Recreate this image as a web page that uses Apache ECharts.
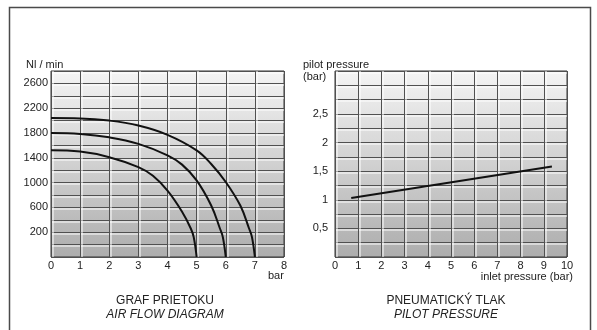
<!DOCTYPE html>
<html>
<head>
<meta charset="utf-8">
<script src="https://cdn.jsdelivr.net/npm/echarts@6/dist/echarts.min.js"></script>
</head>
<body style="margin:0">
<div id="chart" style="width:597px;height:330px"></div>
<script>
// air flow curves (x: bar, y: Nl/min), one per regulated pressure
var flow5X = [0, 1, 2, 3, 3.5, 4, 4.5, 4.8, 4.9, 5];
var flow5Y = [1520, 1500, 1410, 1250, 1110, 870, 530, 260, 120, -200];
var flow6X = [0, 1, 2, 3, 4, 4.5, 5, 5.5, 5.8, 5.9, 6];
var flow6Y = [1800, 1785, 1730, 1625, 1440, 1290, 1035, 630, 260, 120, -200];
var flow7X = [0, 1, 2, 3, 4, 5, 5.5, 6, 6.5, 6.8, 6.9, 7];
var flow7Y = [2040, 2035, 2000, 1920, 1770, 1520, 1300, 1010, 630, 260, 120, -200];

// pilot pressure vs inlet pressure
var inletX = [0.7, 9.35];
var pilotY = [1.03, 1.58];

// tick labels shown on the value axes
var flowTicks = [200, 600, 1000, 1400, 1800, 2200, 2600];
var pilotTicks = [0.5, 1, 1.5, 2, 2.5];

function pairs(xs, ys) {
  var out = [];
  for (var i = 0; i < xs.length; i++) out.push([xs[i], ys[i]]);
  return out;
}

var chart = echarts.init(document.getElementById('chart'));

var font = 'Liberation Sans, Arial, sans-serif';
var txt = '#222';
var plotBg = new echarts.graphic.LinearGradient(0, 0, 0, 1, [
  { offset: 0, color: '#f4f4f4' },
  { offset: 1, color: '#adadad' }
]);
var hLine = { color: '#505050', width: 1, shadowColor: '#ffffff', shadowOffsetY: 1.5, shadowBlur: 0 };
var vLine = { color: '#505050', width: 1, shadowColor: '#ffffff', shadowOffsetX: 1.5, shadowBlur: 0 };
var lbl = { color: txt, fontSize: 11, fontFamily: font };

var option = {
  animation: false,
  backgroundColor: '#fff',
  grid: [
    { left: 51, top: 71, width: 233, height: 186, show: true, backgroundColor: plotBg, borderColor: '#333', borderWidth: 1 },
    { left: 335, top: 71, width: 232, height: 186, show: true, backgroundColor: plotBg, borderColor: '#333', borderWidth: 1 }
  ],
  xAxis: [
    { gridIndex: 0, type: 'value', min: 0, max: 8, interval: 1,
      axisLine: { show: false }, axisTick: { show: false },
      axisLabel: Object.assign({ margin: 3 }, lbl),
      splitLine: { lineStyle: vLine } },
    { gridIndex: 1, type: 'value', min: 0, max: 10, interval: 1,
      axisLine: { show: false }, axisTick: { show: false },
      axisLabel: Object.assign({ margin: 3 }, lbl),
      splitLine: { lineStyle: vLine } }
  ],
  yAxis: [
    { gridIndex: 0, type: 'value', min: -200, max: 2800, interval: 200,
      axisLine: { show: false }, axisTick: { show: false },
      axisLabel: Object.assign({ margin: 3, formatter: function (v) {
        return flowTicks.indexOf(v) >= 0 ? String(v) : '';
      } }, lbl),
      splitLine: { lineStyle: hLine } },
    { gridIndex: 1, type: 'value', min: 0, max: 3.25, interval: 0.25,
      axisLine: { show: false }, axisTick: { show: false },
      axisLabel: Object.assign({ margin: 7, formatter: function (v) {
        for (var i = 0; i < pilotTicks.length; i++) {
          if (Math.abs(pilotTicks[i] - v) < 1e-6) return String(pilotTicks[i]).replace('.', ',');
        }
        return '';
      } }, lbl),
      splitLine: { lineStyle: hLine } }
  ],
  series: [
    { type: 'line', xAxisIndex: 0, yAxisIndex: 0, data: pairs(flow5X, flow5Y), smooth: 0.4, showSymbol: false,
      lineStyle: { color: '#111', width: 2 } },
    { type: 'line', xAxisIndex: 0, yAxisIndex: 0, data: pairs(flow6X, flow6Y), smooth: 0.4, showSymbol: false,
      lineStyle: { color: '#111', width: 2 } },
    { type: 'line', xAxisIndex: 0, yAxisIndex: 0, data: pairs(flow7X, flow7Y), smooth: 0.4, showSymbol: false,
      lineStyle: { color: '#111', width: 2 } },
    { type: 'line', xAxisIndex: 1, yAxisIndex: 1, data: pairs(inletX, pilotY), showSymbol: false,
      lineStyle: { color: '#111', width: 2 } }
  ],
  graphic: [
    { type: 'polyline', shape: { points: [[9.5, 335], [9.5, 7.5], [590.5, 7.5], [590.5, 335]] },
      style: { stroke: '#4a4a4a', lineWidth: 1.5, fill: null } },
    { type: 'text', left: 26, top: 59, style: { text: 'Nl / min', fill: txt, font: '11px ' + font } },
    { type: 'text', left: 268, top: 270, style: { text: 'bar', fill: txt, font: '11px ' + font } },
    { type: 'text', left: 303, top: 59, style: { text: 'pilot pressure', fill: txt, font: '11px ' + font } },
    { type: 'text', left: 303, top: 71, style: { text: '(bar)', fill: txt, font: '11px ' + font } },
    { type: 'text', right: 24, top: 271, style: { text: 'inlet pressure (bar)', fill: txt, font: '11px ' + font } },
    { type: 'text', x: 165, y: 301, style: { text: 'GRAF PRIETOKU', fill: txt, font: '12px ' + font, textAlign: 'center', textVerticalAlign: 'middle' } },
    { type: 'text', x: 165, y: 315, style: { text: 'AIR FLOW DIAGRAM', fill: txt, font: 'italic 12px ' + font, textAlign: 'center', textVerticalAlign: 'middle' } },
    { type: 'text', x: 446, y: 301, style: { text: 'PNEUMATICKÝ TLAK', fill: txt, font: '12px ' + font, textAlign: 'center', textVerticalAlign: 'middle' } },
    { type: 'text', x: 446, y: 315, style: { text: 'PILOT PRESSURE', fill: txt, font: 'italic 12px ' + font, textAlign: 'center', textVerticalAlign: 'middle' } }
  ]
};

chart.setOption(option);
</script>
</body>
</html>
